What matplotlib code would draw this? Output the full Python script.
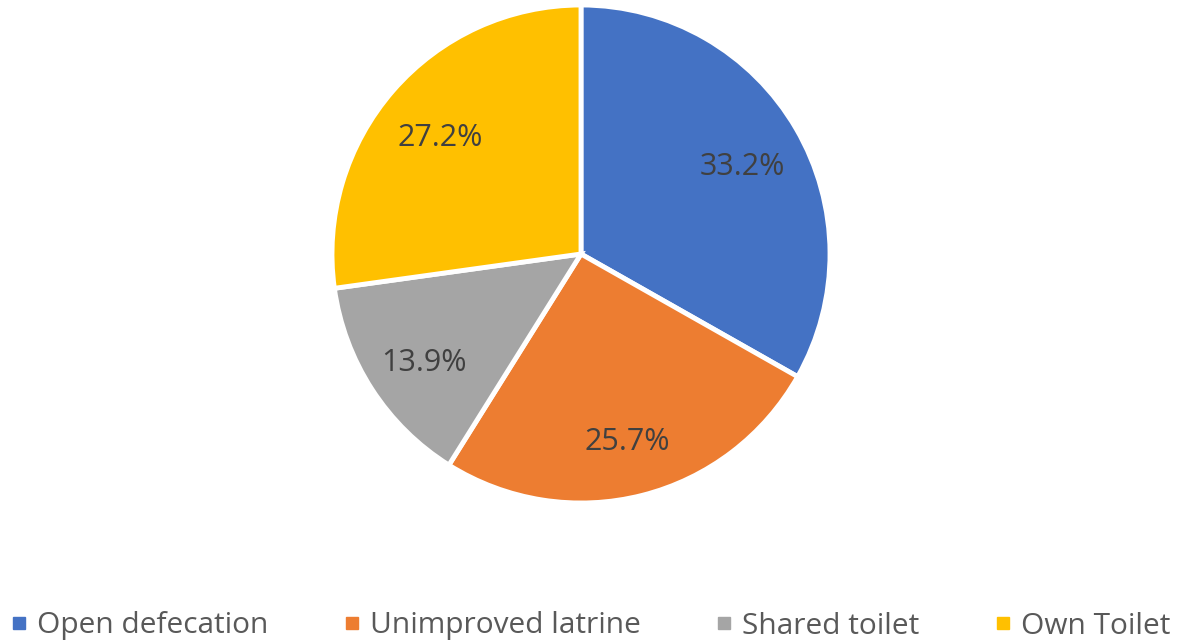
import matplotlib
matplotlib.use('Agg')
import matplotlib.pyplot as plt
import matplotlib.transforms as mtransforms
from matplotlib.lines import Line2D

plt.rcParams['font.family'] = ['Open Sans', 'DejaVu Sans']

# sanitation access categories and their shares (%)
categories = ['Open defecation', 'Unimproved latrine', 'Shared toilet', 'Own Toilet']
shares = [33.2, 25.7, 13.9, 27.2]
colors = ['#4472C4', '#ED7D31', '#A5A5A5', '#FFC000']

fig = plt.figure(figsize=(11.8, 6.43), dpi=100)
ax = fig.add_axes([332 / 1180, 140 / 643, 498 / 1180, 498 / 643])

wedges, texts, autotexts = ax.pie(
    shares, colors=colors, startangle=90, counterclock=False,
    autopct='%1.1f%%', pctdistance=0.75,
    wedgeprops=dict(edgecolor='white', linewidth=3.5),
    textprops=dict(color='#404040', fontsize=22),
)
# nudge the percentage labels down a little so the digits sit centred
for t in autotexts:
    t.set_transform(mtransforms.offset_copy(t.get_transform(), fig=fig,
                                            x=0, y=-7, units='dots'))
ax.set_xlim(-1.0, 1.0)
ax.set_ylim(-1.0, 1.0)
ax.set_aspect('equal')

handles = [Line2D([], [], marker='s', linestyle='', markersize=8.6,
                  markerfacecolor=c, markeredgecolor=c) for c in colors]
fig.legend(handles, categories, loc='center', bbox_to_anchor=(0.5, 17 / 643),
           ncol=4, frameon=False, fontsize=21.5, labelcolor='#595959',
           handletextpad=0.3, columnspacing=2.5, handlelength=0.6)

fig.savefig('out.png', dpi=100, facecolor='white')
